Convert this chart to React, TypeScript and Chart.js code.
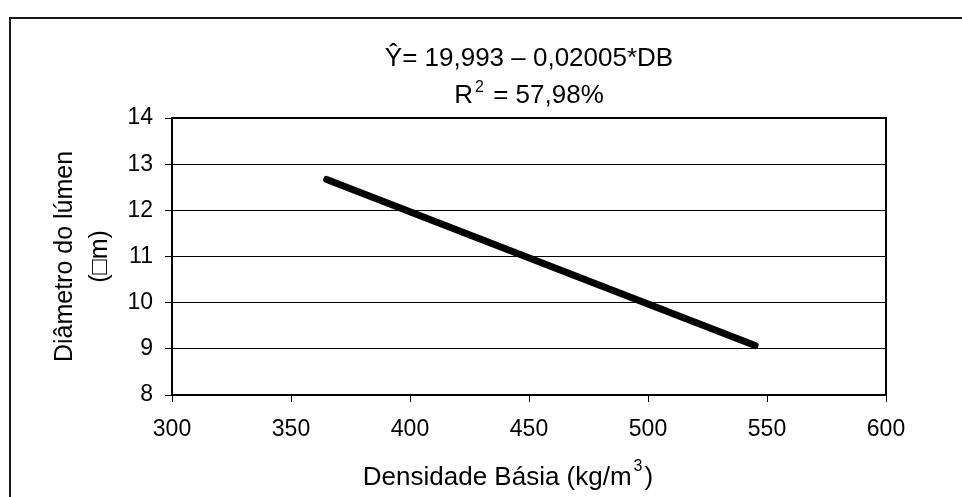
import { useEffect, useRef } from "react";
import { Chart, registerables } from "chart.js";

Chart.register(...registerables);

// ---- data ----
const densidade = [365, 545];
const diametro = [12.67, 9.07];
const xTicks = [300, 350, 400, 450, 500, 550, 600];
const yTicks = [8, 9, 10, 11, 12, 13, 14];
const titleLine1 = "Ŷ= 19,993 – 0,02005*DB";
const titleLine2 = ["R", "2", " = 57,98%"];
const xTitle = ["Densidade Básia (kg/m", "3", ")"];
const yTitle = ["Diâmetro do lúmen", "(□m)"];

const FONT = "'Liberation Sans', Arial, sans-serif";

function drawSup(ctx: any, parts: string[], cx: number, baseY: number, bigPx: number, smallPx: number, rise: number) {
  const big = `${bigPx}px ${FONT}`;
  const small = `${smallPx}px ${FONT}`;
  ctx.font = big;
  const w0 = ctx.measureText(parts[0]).width;
  const w2 = ctx.measureText(parts[2]).width;
  ctx.font = small;
  const w1 = ctx.measureText(parts[1]).width;
  const gap = 2;
  const total = w0 + gap + w1 + gap + w2;
  let x = cx - total / 2;
  ctx.textAlign = "left";
  ctx.textBaseline = "alphabetic";
  ctx.font = big;
  ctx.fillText(parts[0], x, baseY);
  x += w0 + gap;
  ctx.font = small;
  ctx.fillText(parts[1], x, baseY - rise);
  x += w1 + gap;
  ctx.font = big;
  ctx.fillText(parts[2], x, baseY);
}

const framePlugin = {
  id: "frameAndTitle",
  beforeDatasetsDraw(chart: any) {
    const { ctx, chartArea } = chart;
    ctx.save();
    ctx.strokeStyle = "#000";
    ctx.lineWidth = 2;
    ctx.strokeRect(chartArea.left, chartArea.top, chartArea.right - chartArea.left, chartArea.bottom - chartArea.top);
    ctx.restore();
  },
  afterDraw(chart: any) {
    const { ctx, chartArea } = chart;
    const cx = (chartArea.left + chartArea.right) / 2;
    ctx.save();
    ctx.fillStyle = "#000";
    ctx.textBaseline = "alphabetic";
    ctx.textAlign = "center";
    ctx.font = `26px ${FONT}`;
    ctx.fillText(titleLine1, cx, 66);
    drawSup(ctx, titleLine2, cx, 103, 26, 16, 11);
    drawSup(ctx, xTitle, cx - 21, 485, 26, 16, 14);
    ctx.restore();
  },
};

export default function App() {
  const ref = useRef<HTMLCanvasElement | null>(null);

  useEffect(() => {
    if (!ref.current) return;
    const chart = new Chart(ref.current, {
      type: "line",
      data: {
        datasets: [
          {
            data: densidade.map((x, i) => ({ x, y: diametro[i] })),
            borderColor: "#000",
            borderWidth: 7,
            borderCapStyle: "round",
            pointRadius: 0,
            fill: false,
          },
        ],
      },
      options: {
        animation: false,
        responsive: false,
        devicePixelRatio: 1,
        layout: { padding: { top: 118, right: 76, left: 0, bottom: 0 } },
        plugins: { legend: { display: false }, tooltip: { enabled: false }, title: { display: false } },
        scales: {
          x: {
            type: "linear",
            min: 300,
            max: 600,
            afterBuildTicks: (s: any) => {
              s.ticks = xTicks.map((v) => ({ value: v }));
            },
            afterFit: (s: any) => {
              s.height = 102;
            },
            grid: { drawOnChartArea: false, drawTicks: true, tickLength: 7, color: "#000", lineWidth: 1 },
            border: { display: false },
            ticks: { color: "#000", font: { family: FONT, size: 23 }, padding: 14, maxRotation: 0 },
            title: { display: false },
          },
          y: {
            type: "linear",
            min: 8,
            max: 14,
            afterBuildTicks: (s: any) => {
              s.ticks = yTicks.map((v) => ({ value: v }));
            },
            afterFit: (s: any) => {
              s.width = 172;
            },
            grid: { drawOnChartArea: true, drawTicks: true, tickLength: 7, color: "#000", lineWidth: 1 },
            border: { display: false },
            ticks: { color: "#000", font: { family: FONT, size: 23 }, padding: 12 },
            title: {
              display: true,
              text: yTitle,
              color: "#000",
              font: { family: FONT, size: 25, lineHeight: 1.4 },
              padding: { top: 48, bottom: 0 },
            },
          },
        },
      },
      plugins: [framePlugin],
    } as any);
    return () => chart.destroy();
  }, []);

  return (
    <div
      style={{
        position: "fixed",
        left: 0,
        top: 0,
        width: 962,
        height: 497,
        overflow: "hidden",
        background: "#fff",
      }}
    >
      <div
        style={{
          position: "absolute",
          left: 9,
          top: 17,
          width: 2000,
          height: 2000,
          borderTop: "2px solid #1a1a1a",
          borderLeft: "2px solid #1a1a1a",
        }}
      />
      <canvas ref={ref} width={962} height={497} style={{ position: "absolute", left: 0, top: 0 }} />
    </div>
  );
}
